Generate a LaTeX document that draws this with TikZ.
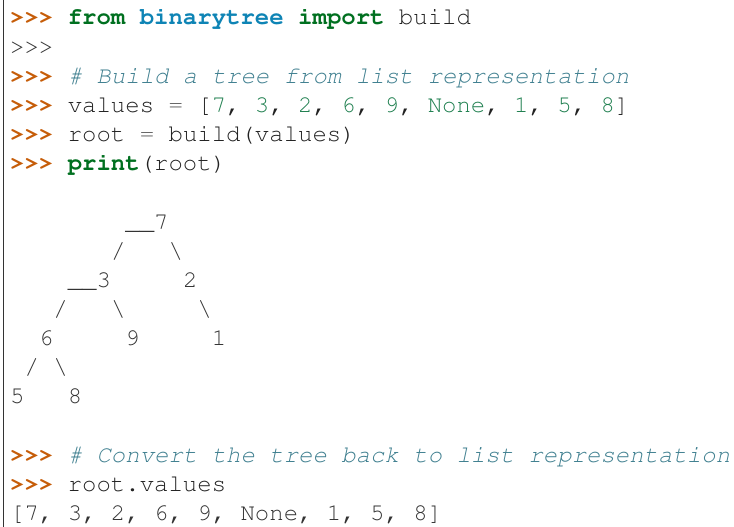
\documentclass[tikz,border=0pt]{standalone}
\usepackage[T1]{fontenc}
\usepackage{courier}
\definecolor{promptc}{HTML}{C65D09}
\definecolor{kwc}{HTML}{007020}
\definecolor{nmc}{HTML}{0E84B5}
\definecolor{cmc}{HTML}{408090}
\definecolor{numc}{HTML}{208050}
\definecolor{opc}{HTML}{666666}
\definecolor{txtc}{HTML}{222222}
\definecolor{outc}{HTML}{333333}
\definecolor{borderc}{HTML}{333333}
\newcommand\Pgt{>{}>{}>}
\newcommand\Pprompt{\textcolor{promptc}{\bfseries\Pgt}}
\newcommand\Pkw[1]{\textcolor{kwc}{\bfseries #1}}
\newcommand\Pnm[1]{\textcolor{nmc}{\bfseries #1}}
\newcommand\Pcm[1]{\textcolor{cmc}{\slshape #1}}
\newcommand\Pnum[1]{\textcolor{numc}{#1}}
\newcommand\Pop[1]{\textcolor{opc}{#1}}
\newcommand\Psp[1]{\hskip#1\dimexpr0.6em\relax}
\newcommand\Pws{\hskip0.6em\relax}
\begin{document}
\begin{tikzpicture}[x=1pt,y=-1pt,
  codeline/.style={anchor=base west, inner sep=0pt, text=txtc,
    font=\ttfamily\fontsize{24}{29}\selectfont},
  outline/.style={codeline, text=outc},
  border/.style={draw=borderc, line width=0.9pt}]
\useasboundingbox (0,0) rectangle (734,527);
\fill[white] (0,0) rectangle (734,527);
\draw[border] (3,0) -- (3,527);
\def\xo{10}
\node[codeline] (l1) at (\xo,25) {\Pprompt\Pws\Pkw{from}\Pws\Pnm{binarytree}\Pws\Pkw{import}\Pws build};
\node[outline] (l2) at (\xo,54.15) {\Pgt};
\node[codeline] (l3) at (\xo,83.3) {\Pprompt\Pws\Pcm{\#\Pws Build\Pws a\Pws tree\Pws from\Pws list\Pws representation}};
\node[codeline] (l4) at (\xo,112.45) {\Pprompt\Pws values\Pws\Pop{=}\Pws[\Pnum{7},\Pws\Pnum{3},\Pws\Pnum{2},\Pws\Pnum{6},\Pws\Pnum{9},\Pws\Pnum{None},\Pws\Pnum{1},\Pws\Pnum{5},\Pws\Pnum{8}]};
\node[codeline] (l5) at (\xo,141.6) {\Pprompt\Pws root\Pws\Pop{=}\Pws build(values)};
\node[codeline] (l6) at (\xo,170.75) {\Pprompt\Pws\Pkw{print}(root)};
\node[outline] (l8) at (\xo,229.05) {\Psp{8}\_\_7};
\node[outline] (l9) at (\xo,258.2) {\Psp{7}/\Psp{3}\textbackslash};
\node[outline] (l10) at (\xo,287.35) {\Psp{4}\_\_3\Psp{5}2};
\node[outline] (l11) at (\xo,316.5) {\Psp{3}/\Psp{3}\textbackslash\Psp{5}\textbackslash};
\node[outline] (l12) at (\xo,345.65) {\Psp{2}6\Psp{5}9\Psp{5}1};
\node[outline] (l13) at (\xo,374.8) {\Psp{1}/\Psp{1}\textbackslash};
\node[outline] (l14) at (\xo,403.95) {5\Psp{3}8};
\node[codeline] (l16) at (\xo,462.25) {\Pprompt\Pws\Pcm{\#\Pws Convert\Pws the\Pws tree\Pws back\Pws to\Pws list\Pws representation}};
\node[codeline] (l17) at (\xo,491.4) {\Pprompt\Pws root.values};
\node[outline] (l18) at (\xo,520.55) {[7,\Pws 3,\Pws 2,\Pws 6,\Pws 9,\Pws None,\Pws 1,\Pws 5,\Pws 8]};
\end{tikzpicture}
\end{document}
